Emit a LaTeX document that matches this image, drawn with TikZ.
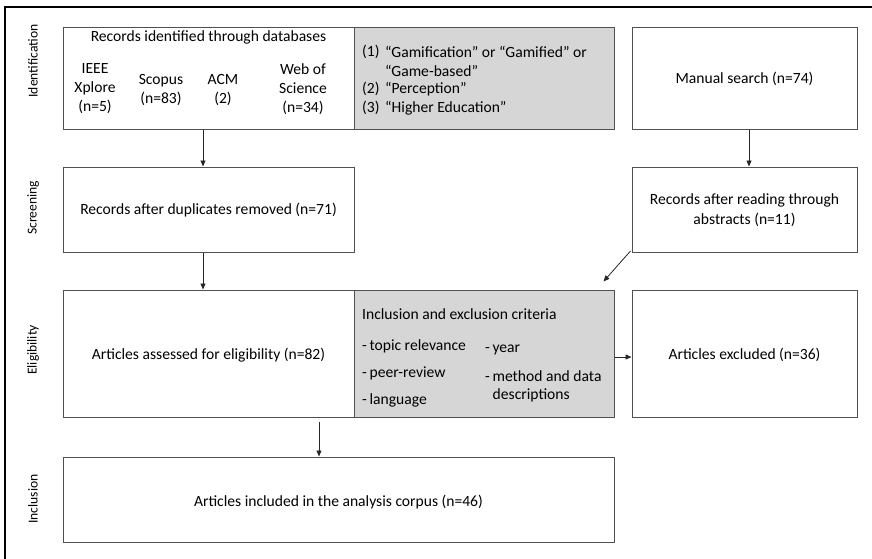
\documentclass[tikz,border=0pt]{standalone}
\usepackage{fontspec}
\setmainfont{Carlito}
\usetikzlibrary{arrows.meta}
\definecolor{boxline}{HTML}{505050}
\definecolor{greyfill}{HTML}{D6D6D6}
\tikzset{
  box/.style={draw=boxline, line width=1pt, rectangle, inner sep=0pt, fill=white},
  greybox/.style={box, fill=greyfill},
  txt/.style={inner sep=0pt, font=\fontsize{15.6}{19}\selectfont, align=center},
  ltxt/.style={inner sep=0pt, font=\fontsize{15.6}{19}\selectfont, anchor=west},
  side/.style={inner sep=0pt, font=\fontsize{13.6}{16}\selectfont, rotate=90},
  arr/.style={draw=black!85, line width=0.8pt, -{Triangle[length=6pt,width=5pt]}},
}
\begin{document}
\begin{tikzpicture}[x=1pt,y=-1pt]
\useasboundingbox (0,0) rectangle (872,558);
\fill[white] (0,0) rectangle (872,558);
% outer frame (cropped)
\draw[line width=1.3pt] (5,580) -- (5,7) -- (890,7);

% side labels
\node[side] (lid) at (33,61) {Identification};
\node[side] (lsc) at (33,208) {Screening};
\node[side] (lel) at (33,350) {Eligibility};
\node[side] (lin) at (33,499) {Inclusion};

% row 1
\node[box, minimum width=291, minimum height=102] (db) at (208.5,78) {};
\node[greybox, minimum width=260, minimum height=102] (kw) at (484,78) {};
\node[box, minimum width=225, minimum height=102] (man) at (744.5,78) {};

\node[txt] (dbt) at (208.5,37) {Records identified through databases};
\node[txt] (ieee) at (95,89) {IEEE\\Xplore\\(n=5)};
\node[txt] (scop) at (161,90) {Scopus\\(n=83)};
\node[txt] (acm) at (223,90) {ACM\\(2)};
\node[txt] (wos) at (303,89) {Web of\\Science\\(n=34)};

\node[ltxt] (k1) at (362,52) {(1)};
\node[ltxt] (k1a) at (385,52) {“Gamification” or “Gamified” or};
\node[ltxt] (k1b) at (385,70.5) {“Game-based”};
\node[ltxt] (k2) at (362,89) {(2)};
\node[ltxt] (k2a) at (385,89) {“Perception”};
\node[ltxt] (k3) at (362,108) {(3)};
\node[ltxt] (k3a) at (385,108) {“Higher Education”};

\node[txt] (mant) at (744.5,79) {Manual search (n=74)};

% row 2
\node[box, minimum width=291, minimum height=85] (scr) at (208.5,209.5) {};
\node[txt] (scrt) at (208.5,210) {Records after duplicates removed (n=71)};
\node[box, minimum width=225, minimum height=85] (rd) at (744.5,209.5) {};
\node[txt, font=\fontsize{15.6}{20}\selectfont] (rdt) at (744.5,210) {Records after reading through\\abstracts (n=11)};

% row 3
\node[box, minimum width=291, minimum height=127] (as) at (208.5,353.5) {};
\node[txt] (ast) at (208.5,355) {Articles assessed for eligibility (n=82)};
\node[greybox, minimum width=260, minimum height=127] (cr) at (484,353.5) {};
\node[ltxt] (crt) at (362,314) {Inclusion and exclusion criteria};
\node[ltxt] (c1) at (362,346) {-\,topic relevance};
\node[ltxt] (c2) at (362,373) {-\,peer-review};
\node[ltxt] (c3) at (362,400) {-\,language};
\node[ltxt] (c4) at (485,350) {-\,year};
\node[ltxt] (c5) at (485,376) {-\,method and data};
\node[ltxt] (c6) at (492.5,395) {descriptions};
\node[box, minimum width=225, minimum height=127] (ex) at (744.5,353.5) {};
\node[txt] (ext) at (744.5,355) {Articles excluded (n=36)};

% row 4
\node[box, minimum width=551, minimum height=85] (inc) at (338.5,499.5) {};
\node[txt] (inct) at (338.5,502) {Articles included in the analysis corpus (n=46)};

% connectors
\draw[arr] ([xshift=-5.5]db.south) -- ([xshift=-5.5]scr.north);
\draw[arr] ([xshift=4.5]man.south) -- ([xshift=4.5]rd.north);
\draw[arr] ([xshift=-5.5]scr.south) -- ([xshift=-5.5]as.north);
\draw[arr] ([shift={(-1,-1.5)}]rd.south west) -- ([shift={(-11,-8)}]cr.north east);
\draw[arr] ([yshift=-3.5]cr.east) -- ([yshift=-3.5]ex.west);
\draw[arr] ([shift={(110.5,4)}]as.south) -- ([xshift=-19.5]inc.north);
\end{tikzpicture}
\end{document}
